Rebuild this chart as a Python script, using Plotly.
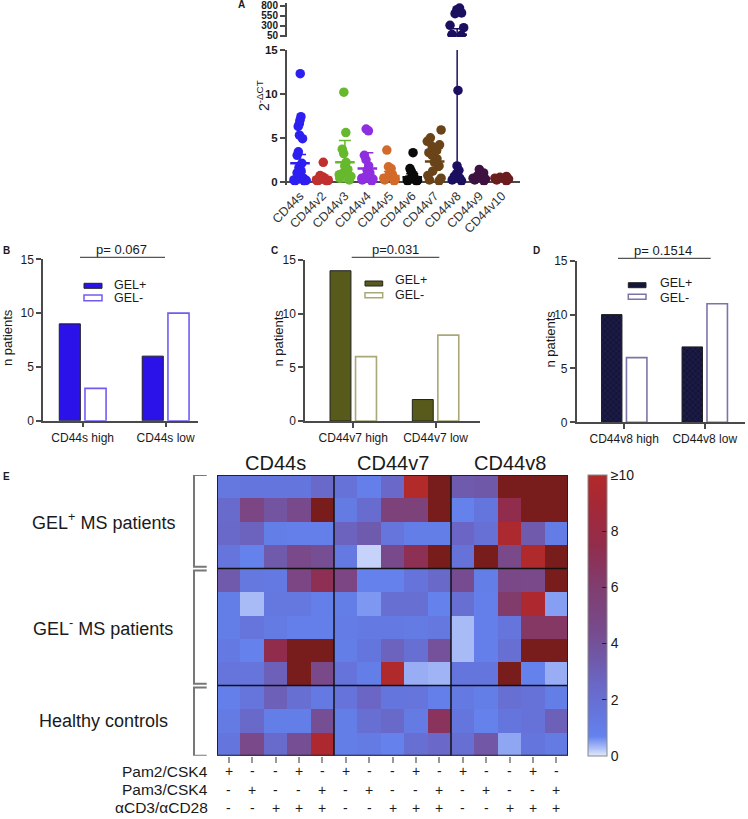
import plotly.graph_objects as go

W, H = 748, 819
def px(x): return x / W
def py(y): return 1 - y / H

FONT = "Liberation Sans, Arial, Helvetica, sans-serif"
TXT = "#1a1a1a"

# ---------------- Panel A data ----------------
categories = ["CD44s", "CD44v2", "CD44v3", "CD44v4", "CD44v5",
              "CD44v6", "CD44v7", "CD44v8", "CD44v9", "CD44v10"]
cd44s = [12.3, 7.4, 7.0, 6.6, 6.3, 5.3, 4.9, 3.4, 3.0, 2.1, 1.6, 1.3, 1.0, 0.8,
         0.6, 0.5, 0.4, 0.3, 0.2, 0.15, 0.1, 0.05]
cd44v2 = [2.2, 0.7, 0.6, 0.5, 0.4, 0.3, 0.25, 0.2, 0.15, 0.1, 0.05]
cd44v3 = [10.2, 5.6, 3.7, 3.2, 2.2, 1.8, 1.4, 1.0, 0.8, 0.6, 0.4, 0.2]
cd44v4 = [6.0, 5.8, 3.0, 2.5, 1.8, 1.3, 1.0, 0.6, 0.4, 0.3, 0.2, 0.1]
cd44v5 = [3.6, 1.7, 1.5, 1.0, 0.8, 0.6, 0.4, 0.3, 0.2, 0.1]
cd44v6 = [3.3, 1.5, 1.2, 0.8, 0.6, 0.4, 0.3, 0.2, 0.15, 0.1, 0.05]
cd44v7 = [5.9, 5.0, 4.6, 4.2, 4.0, 3.6, 3.3, 3.0, 2.6, 2.2, 1.8, 1.2, 0.7,
          0.4, 0.2, 0.1]
cd44v8 = [740, 700, 620, 600, 310, 250, 80, 60, 10.4, 1.8, 1.3, 0.9, 0.6,
          0.4, 0.2, 0.1]
cd44v9 = [1.4, 1.0, 0.7, 0.4, 0.3, 0.2, 0.1]
cd44v10 = [0.6, 0.5, 0.4, 0.3, 0.2, 0.1]
values_by_cat = [cd44s, cd44v2, cd44v3, cd44v4, cd44v5,
                 cd44v6, cd44v7, cd44v8, cd44v9, cd44v10]
means = [2.1, 0.45, 2.2, 1.5, 0.65, 0.5, 2.3, 75, 0.4, 0.3]
errs = [1.0, 0.3, 2.5, 1.8, 0.5, 0.4, 1.0, 150, 0.3, 0.1]
cat_colors = ["#2d1ff0", "#c0302e", "#66b82c", "#8e2ee0", "#d26a2a",
              "#0a0a0a", "#6a4418", "#1b0f60", "#3e1240", "#6b1c1c"]
break_value = 15

# ---------------- Panels B-D data ----------------
b_groups = ["CD44s high", "CD44s low"]
b_gel_pos = [9, 6]
b_gel_neg = [3, 10]
c_groups = ["CD44v7 high", "CD44v7 low"]
c_gel_pos = [14, 2]
c_gel_neg = [6, 8]
d_groups = ["CD44v8 high", "CD44v8 low"]
d_gel_pos = [10, 7]
d_gel_neg = [6, 11]
p_texts = ["p= 0.067", "p=0.031", "p= 0.1514"]
series_names = ["GEL+", "GEL-"]

# ---------------- Panel E data ----------------
M = 12  # above colour-scale maximum (>=10)
heat_values = [
    [1.4, 1.5, 1.5, 1.5, 2.4, 1.8, 0.9, 2.5, 10, M, 3.3, 3.5, M, M, M],
    [2.3, 5.0, 3.8, 4.5, M, 1.2, 2.2, 5.5, 5.5, M, 0.8, 1.5, 7.5, M, M],
    [2.4, 2.8, 1.0, 0.9, 0.9, 2.8, 3.3, 1.6, 1.0, 1.0, 2.6, 1.9, 9.5, 3.4, 1.1],
    [1.6, 0.8, 3.4, 4.6, 4.2, 1.3, 0.15, 4.5, 7.2, M, 1.8, M, 4.6, 9.8, M],
    [3.4, 1.4, 1.3, 5.0, 7.2, 5.0, 0.8, 0.8, 1.7, 2.4, 4.4, 1.0, 4.8, 4.6, M],
    [1.0, 0.3, 1.4, 1.4, 0.9, 1.0, 0.55, 2.0, 2.0, 0.8, 2.0, 0.9, 6.2, 9.6, 0.5],
    [1.0, 1.6, 1.2, 0.9, 0.9, 1.1, 1.3, 1.3, 1.2, 1.4, 0.3, 0.9, 1.6, 6.5, 6.5],
    [1.3, 0.8, 7.5, M, M, 1.0, 1.5, 2.8, 2.0, 4.0, 0.3, 0.9, 2.0, M, M],
    [1.6, 1.6, 3.0, M, 4.6, 1.7, 1.0, 9.8, 0.4, 0.35, 1.5, 1.5, M, 0.8, 0.4],
    [0.9, 1.6, 3.0, 2.0, 1.3, 1.7, 2.6, 1.5, 1.6, 0.9, 1.3, 1.0, 2.0, 1.8, 1.0],
    [1.2, 2.4, 1.0, 1.0, 4.2, 1.0, 2.0, 2.4, 1.2, 6.8, 1.5, 0.8, 1.5, 1.8, 3.0],
    [1.5, 4.6, 2.3, 4.2, 9.6, 1.0, 1.2, 0.8, 2.0, 2.5, 2.0, 3.6, 0.45, 1.5, 1.2],
]
col_groups = ["CD44s", "CD44v7", "CD44v8"]
pam2_csk4 = ["+", "-", "-", "+", "-"]
pam3_csk4 = ["-", "+", "-", "-", "+"]
acd3_acd28 = ["-", "-", "+", "+", "+"]
stim_labels = ["Pam2/CSK4", "Pam3/CSK4", "αCD3/αCD28"]
row_group_names = ["GEL<sup>+</sup> MS patients", "GEL<sup>-</sup> MS patients", "Healthy controls"]
row_group_sizes = [4, 5, 3]
cbar_tickvals = [0, 2, 4, 6, 8, 10]
cbar_ticktext = ["0", "2", "4", "6", "8", "≥10"]

fig = go.Figure()
shapes = []
ann = []

def note(text, x, y, size, xref="paper", yref="paper", xanchor="center",
         yanchor="middle", angle=0):
    ann.append(dict(text=text, x=x, y=y, xref=xref, yref=yref, xanchor=xanchor,
                    yanchor=yanchor, textangle=angle, showarrow=False,
                    font=dict(size=size, color=TXT, family=FONT)))

# ================= Panel A =================
for i, cat in enumerate(categories):
    vals = values_by_cat[i]
    low = [v for v in vals if v <= break_value]
    high = [v for v in vals if v > break_value]
    common = dict(boxpoints="all", jitter=1, pointpos=0, width=0.75,
                  marker=dict(color=cat_colors[i], size=9.5, opacity=1),
                  line=dict(width=0, color="rgba(0,0,0,0)"),
                  fillcolor="rgba(0,0,0,0)", showlegend=False, hoveron="points")
    fig.add_trace(go.Box(x=[cat] * len(low), y=low, xaxis="x", yaxis="y", **common))
    err_style = dict(type="data", array=[errs[i]], arrayminus=[min(errs[i], means[i])],
                     width=6, thickness=1.5, color=cat_colors[i])
    mean_marker = dict(symbol="line-ew", size=14, line=dict(width=2.5, color=cat_colors[i]))
    fig.add_trace(go.Scatter(x=[cat], y=[means[i]], mode="markers", marker=mean_marker,
                             error_y=err_style, xaxis="x", yaxis="y", showlegend=False))
    if high:
        fig.add_trace(go.Box(x=[cat] * len(high), y=high, xaxis="x2", yaxis="y2", **common))
        fig.add_trace(go.Scatter(x=[cat], y=[means[i]], mode="markers", marker=mean_marker,
                                 error_y=err_style, xaxis="x2", yaxis="y2", showlegend=False))

axcol = "#4a4a4a"
a_xdom = [px(287), px(520)]
a_xrange = [-0.58, 9.8]
fig.update_layout(
    xaxis=dict(domain=a_xdom, anchor="y", type="category", categoryorder="array",
               categoryarray=categories, range=a_xrange, tickangle=-45,
               tickfont=dict(size=12.5, color="#333", family=FONT), showline=False,
               ticks="", showgrid=False, zeroline=False),
    yaxis=dict(domain=[py(185.2), py(50)], anchor="x", range=[-0.4, 15],
               tickvals=[0, 5, 10, 15], showline=True, linecolor=axcol, linewidth=2,
               ticks="outside", ticklen=5, tickwidth=2, tickcolor=axcol,
               tickfont=dict(size=11.5, weight="bold", color=TXT, family=FONT),
               zeroline=True, zerolinecolor=axcol, zerolinewidth=2, showgrid=False),
    xaxis2=dict(domain=a_xdom, anchor="y2", type="category", categoryorder="array",
                categoryarray=categories, range=a_xrange, visible=False),
    yaxis2=dict(domain=[py(37), py(3)], anchor="x2", range=[17.5, 867.5],
                tickvals=[50, 300, 550, 800], showline=True, linecolor=axcol, linewidth=2,
                ticks="outside", ticklen=5, tickwidth=2, tickcolor=axcol,
                tickfont=dict(size=10, weight="bold", color=TXT, family=FONT),
                zeroline=False, showgrid=False),
)
note("2<sup>-ΔCT</sup>", px(263), py(96), 14, angle=-90)
note("<b>A</b>", px(241.5), py(5), 10)

# ================= Panels B-D =================
panels = [
    dict(groups=b_groups, pos=b_gel_pos, neg=b_gel_neg, xa="x3", ya="y3",
         xdom=(43, 198), y15=259.3, y0=420.7, xr=[-0.478, 1.39],
         pos_color="#2a12e8", pos_pattern=None, neg_line="#6e5cf2",
         p=p_texts[0], pline=(80, 165, 257.3), ptext=(121.7, 249), label="B", lab=(6, 250),
         ytitle=7, sw=(84, 102, 283.3, 288.3, 295, 300.7), leg_tx=112, leg_ty=(284.7, 298)),
    dict(groups=c_groups, pos=c_gel_pos, neg=c_gel_neg, xa="x4", ya="y4",
         xdom=(305, 480), y15=260, y0=421, xr=[-0.586, 1.54],
         pos_color="#575a1a", pos_pattern=None, neg_line="#aaa878",
         p=p_texts[1], pline=(351.7, 439.3, 257.3), ptext=(395, 249), label="C", lab=(274, 250),
         ytitle=278, sw=(365, 382.7, 281, 286, 292.7, 297.7), leg_tx=393.3, leg_ty=(279.7, 295)),
    dict(groups=d_groups, pos=d_gel_pos, neg=d_gel_neg, xa="x5", ya="y5",
         xdom=(576.7, 745), y15=260.7, y0=422.3, xr=[-0.59, 1.5],
         pos_color="#15153c", pos_pattern=dict(shape="x", fgcolor="#35356a", bgcolor="#15153c",
                                               size=4, solidity=0.25),
         neg_line="#7c74a8",
         p=p_texts[2], pline=(618, 710.7, 258.3), ptext=(663, 250), label="D", lab=(536, 250),
         ytitle=550, sw=(628.3, 646, 282.7, 287.7, 294.3, 299.3), leg_tx=658.3, leg_ty=(283.3, 298.3)),
]
layout_axes = {}
for k, p in enumerate(panels):
    pos_marker = dict(color=p["pos_color"], line=dict(color="#222", width=1))
    if p["pos_pattern"]:
        pos_marker["pattern"] = p["pos_pattern"]
    fig.add_trace(go.Bar(x=p["groups"], y=p["pos"], name=series_names[0], marker=pos_marker,
                         xaxis=p["xa"], yaxis=p["ya"], showlegend=False))
    fig.add_trace(go.Bar(x=p["groups"], y=p["neg"], name=series_names[1],
                         marker=dict(color="white", line=dict(color=p["neg_line"], width=1.6)),
                         xaxis=p["xa"], yaxis=p["ya"], showlegend=False))
    xk = "xaxis" + p["xa"][1:]
    yk = "yaxis" + p["ya"][1:]
    layout_axes[xk] = dict(domain=[px(p["xdom"][0]), px(p["xdom"][1])], anchor=p["ya"],
                           range=p["xr"], type="category", showline=True, linecolor=axcol,
                           linewidth=1.5, ticks="outside", ticklen=5, tickcolor=axcol,
                           tickwidth=1.5, tickfont=dict(size=12, color=TXT, family=FONT),
                           showgrid=False, zeroline=False)
    layout_axes[yk] = dict(domain=[py(p["y0"]), py(p["y15"])], anchor=p["xa"], range=[0, 15],
                           tickvals=[0, 5, 10, 15], showline=True, linecolor=axcol,
                           linewidth=1.5, ticks="outside", ticklen=5, tickcolor=axcol,
                           tickwidth=1.5, tickfont=dict(size=12, color=TXT, family=FONT),
                           showgrid=False, zeroline=False)
    # p-value line and text
    x0, x1, yl = p["pline"]
    shapes.append(dict(type="line", xref="paper", yref="paper", x0=px(x0), x1=px(x1),
                       y0=py(yl), y1=py(yl), line=dict(color="#555", width=1.2)))
    note(p["p"], px(p["ptext"][0]), py(p["ptext"][1]), 13)
    note("<b>%s</b>" % p["label"], px(p["lab"][0]), py(p["lab"][1]), 10)
    note("n patients", px(p["ytitle"]), py((p["y0"] + p["y15"]) / 2 - 2), 13, angle=-90)
    # manual legend
    sx0, sx1, a0, a1, b0, b1 = p["sw"]
    shapes.append(dict(type="rect", xref="paper", yref="paper", x0=px(sx0), x1=px(sx1),
                       y0=py(a1), y1=py(a0), fillcolor=p["pos_color"],
                       line=dict(color="#222", width=1)))
    shapes.append(dict(type="rect", xref="paper", yref="paper", x0=px(sx0), x1=px(sx1),
                       y0=py(b1), y1=py(b0), fillcolor="white",
                       line=dict(color=p["neg_line"], width=1.5)))
    for name, ty in zip(series_names, p["leg_ty"]):
        note(name, px(p["leg_tx"]), py(ty), 12.5, xanchor="left")

fig.update_layout(**layout_axes)
fig.update_layout(barmode="group", bargap=0.38, bargroupgap=0.18)

# ================= Panel E =================
n_rows = len(heat_values)
n_cols = len(heat_values[0])
cmax = 10
z_main = [[min(v, cmax) for v in row] for row in heat_values]
z_over = [[1 if v > cmax else None for v in row] for row in heat_values]
colorscale = [
    [0.0, "#e2e8fb"], [0.03, "#a9bbf6"], [0.07, "#6482ee"], [0.15, "#6476de"],
    [0.25, "#6a68c8"], [0.35, "#7058a8"], [0.45, "#784a8c"], [0.6, "#803e70"],
    [0.75, "#922c4c"], [0.9, "#a62836"], [1.0, "#b22a2a"],
]
hx0, hx1, hy0, hy1 = 217, 568, 475, 755.7
fig.add_trace(go.Heatmap(
    z=z_main, x=list(range(n_cols)), y=list(range(n_rows)), zmin=0, zmax=cmax,
    colorscale=colorscale, xaxis="x6", yaxis="y6",
    colorbar=dict(x=px(587.7), xanchor="left", y=py((hy0 + hy1) / 2), yanchor="middle",
                  len=hy1 - hy0, lenmode="pixels", thickness=19, thicknessmode="pixels",
                  outlinecolor="#888", outlinewidth=1, tickvals=cbar_tickvals,
                  ticktext=cbar_ticktext, ticks="inside", ticklen=5, tickcolor="#222",
                  tickwidth=1, tickfont=dict(size=14, color=TXT, family=FONT),
                  xpad=0, ypad=0)))
fig.add_trace(go.Heatmap(
    z=z_over, x=list(range(n_cols)), y=list(range(n_rows)), zmin=0, zmax=1,
    colorscale=[[0, "#781c1c"], [1, "#781c1c"]], showscale=False,
    xaxis="x6", yaxis="y6"))
fig.update_layout(
    xaxis6=dict(domain=[px(hx0), px(hx1)], anchor="y6", range=[-0.5, n_cols - 0.5],
                tickvals=list(range(n_cols)), ticks="outside", ticklen=6, tickcolor="#999",
                tickwidth=1.5, showticklabels=False, showgrid=False, zeroline=False,
                showline=False),
    yaxis6=dict(domain=[py(hy1), py(hy0)], anchor="x6", range=[n_rows - 0.5, -0.5],
                showticklabels=False, ticks="", showgrid=False, zeroline=False,
                showline=False),
)
# borders / separators
gsize = n_cols // len(col_groups)
for g in range(1, len(col_groups)):
    shapes.append(dict(type="line", xref="x6", yref="y6", x0=g * gsize - 0.5, x1=g * gsize - 0.5,
                       y0=-0.5, y1=n_rows - 0.5, line=dict(color="#111", width=1.5)))
row_bounds = [0]
for s in row_group_sizes:
    row_bounds.append(row_bounds[-1] + s)
for b in row_bounds[1:-1]:
    shapes.append(dict(type="line", xref="x6", yref="y6", x0=-0.5, x1=n_cols - 0.5,
                       y0=b - 0.5, y1=b - 0.5, line=dict(color="#111", width=1.5)))
shapes.append(dict(type="rect", xref="x6", yref="y6", x0=-0.5, x1=n_cols - 0.5,
                   y0=-0.5, y1=n_rows - 0.5, line=dict(color="#222", width=2)))
# column group headers
for g, name in enumerate(col_groups):
    note(name, g * gsize + (gsize - 1) / 2, py(463), 20, xref="x6")
# row group brackets and labels
for g, name in enumerate(row_group_names):
    top = row_bounds[g] - 0.5 + (0.08 if g > 0 else 0)
    bot = row_bounds[g + 1] - 0.5 - (0.08 if g < len(row_group_names) - 1 else 0)
    shapes.append(dict(type="path", xref="paper", yref="y6",
                       path="M %f,%f L %f,%f L %f,%f L %f,%f" % (
                           px(206.7), top, px(194), top, px(194), bot, px(206.7), bot),
                       line=dict(color="#777", width=2)))
    note(name, px(103), (row_bounds[g] + row_bounds[g + 1] - 1) / 2, 18, yref="y6")
# stimulation table
stim_rows = [pam2_csk4, pam3_csk4, acd3_acd28]
stim_y = [771, 789.5, 807.5]
for r, (lab, signs) in enumerate(zip(stim_labels, stim_rows)):
    note(lab, px(210), py(stim_y[r]), 15.5, xanchor="right")
    for c in range(n_cols):
        note(signs[c % gsize], c, py(stim_y[r]), 14, xref="x6")
note("<b>E</b>", px(6), py(476), 10)

fig.update_layout(
    width=W, height=H, margin=dict(l=0, r=0, t=0, b=0, autoexpand=False),
    paper_bgcolor="white", plot_bgcolor="rgba(0,0,0,0)",
    font=dict(family=FONT, color=TXT),
    shapes=shapes, annotations=ann, showlegend=False,
)
fig.write_html("out.html", config={"displayModeBar": False},
               post_script="document.body.style.margin='0';")
